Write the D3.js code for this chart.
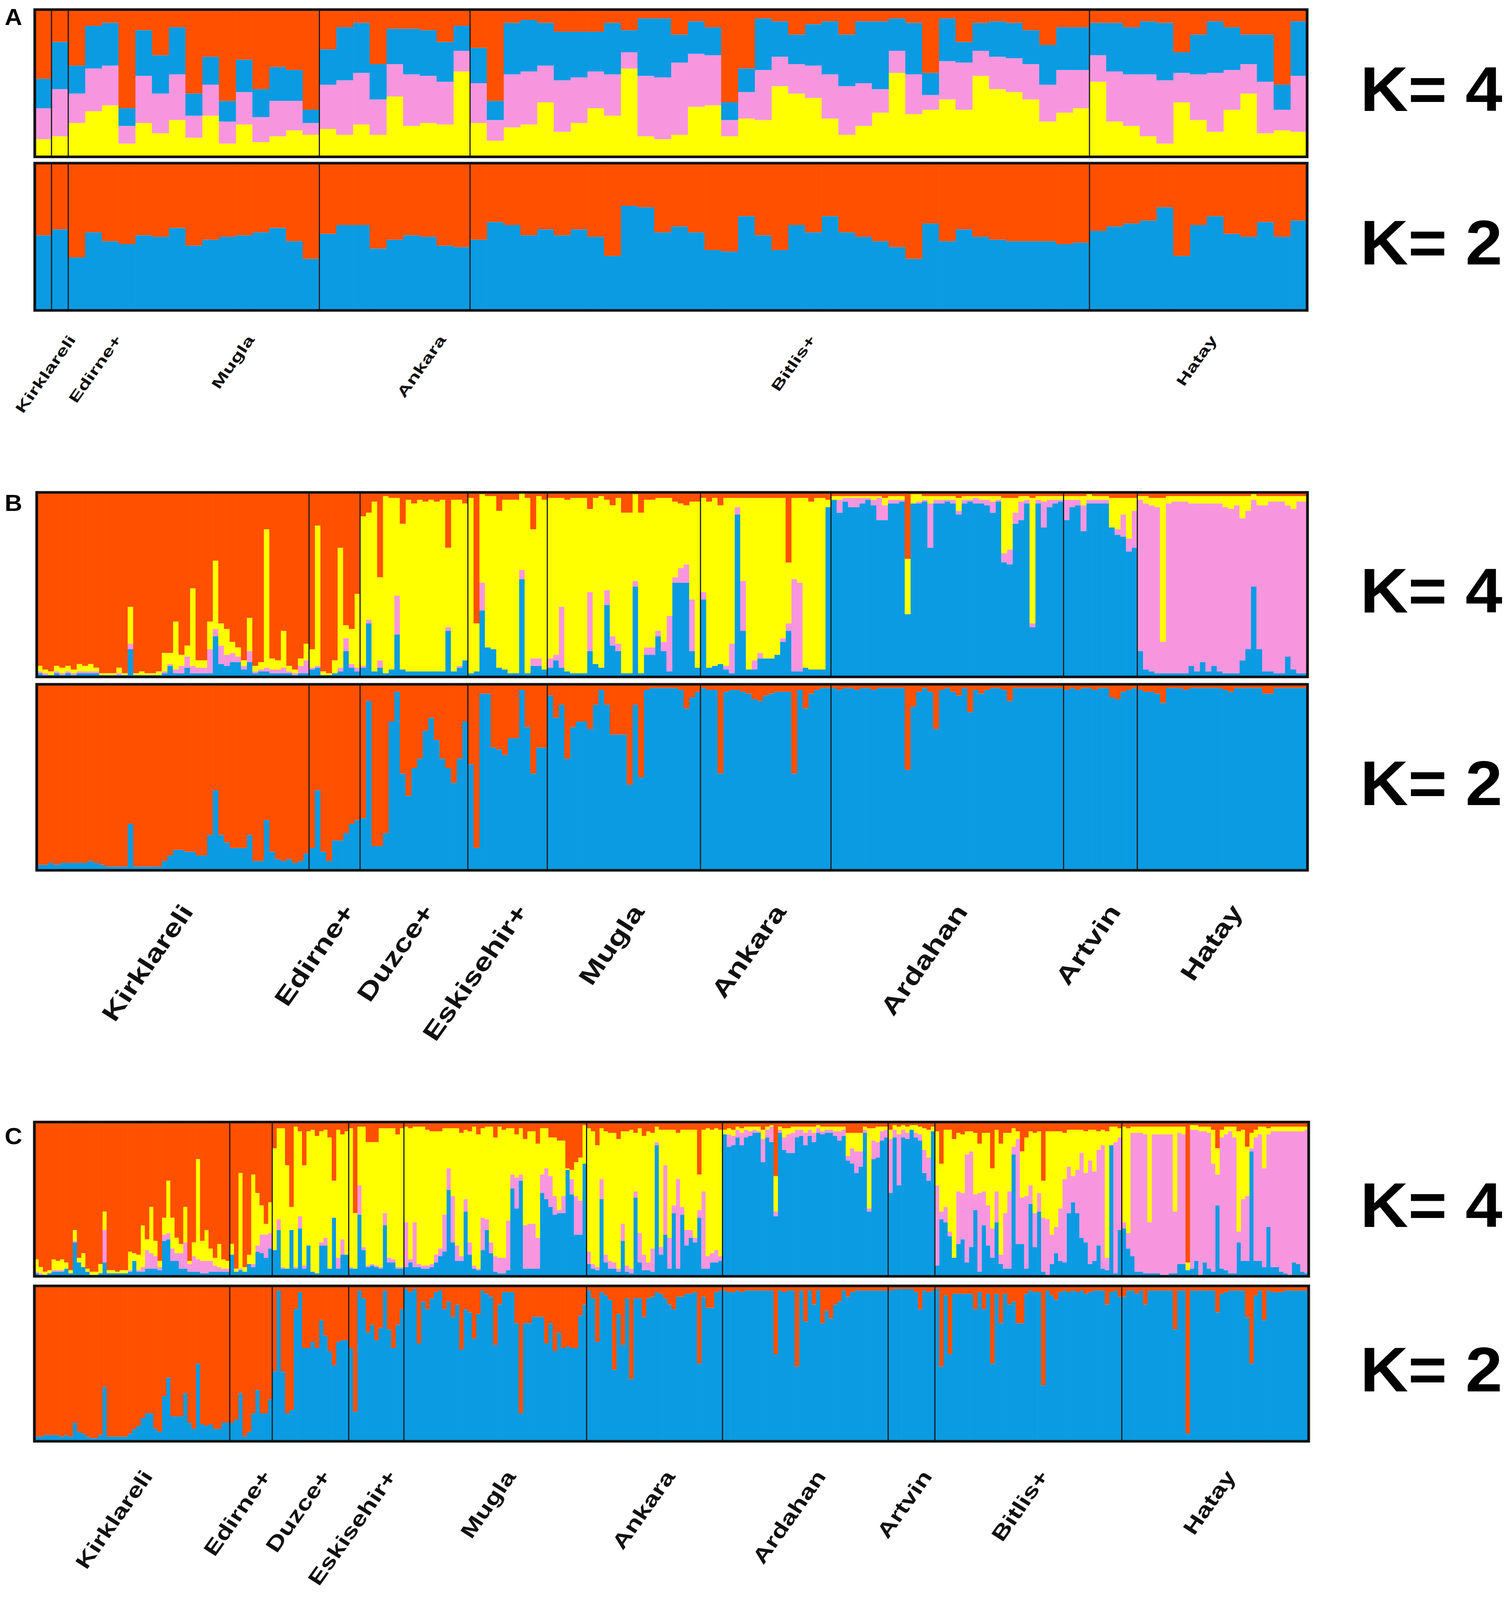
<!DOCTYPE html>
<html>
<head>
<meta charset="utf-8">
<script src="https://cdn.jsdelivr.net/npm/d3@7"></script>
<style>
  html, body { margin: 0; padding: 0; background: #fff; overflow: hidden; }
  svg { display: block; }
</style>
</head>
<body>
<svg id="chart"></svg>
<script>
// ---------------- data ----------------
// panel A : 76 individuals
const groupsA = ["Kirklareli", "Edirne+", "Mugla", "Ankara", "Bitlis+", "Hatay"];
const countsA = [1, 1, 15, 9, 37, 13];
// K=4 rows: [yellow, pink, blue], orange = remainder (stack bottom -> top)
const aK4 = [
  [.12,.21,.20],[.14,.32,.32],
  [.23,.20,.19],[.31,.29,.29],[.35,.27,.29],[.09,.12,.12],[.23,.32,.31],[.16,.27,.26],[.25,.31,.32],[.13,.15,.15],
  [.28,.21,.19],[.09,.15,.14],[.22,.22,.22],[.10,.17,.19],[.14,.24,.23],[.18,.20,.21],[.15,.08,.09],
  [.19,.30,.24],[.15,.37,.36],[.22,.35,.34],[.15,.24,.24],[.41,.22,.24],[.21,.35,.31],[.23,.32,.31],[.22,.29,.27],[.58,.14,.17],
  [.23,.27,.24],[.11,.14,.13],[.20,.36,.35],[.22,.36,.35],[.37,.25,.29],[.17,.35,.33],[.23,.31,.31],[.33,.25,.27],
  [.28,.28,.35],[.60,.11,.15],[.14,.41,.39],[.12,.42,.40],[.15,.49,.19],[.34,.36,.22],[.35,.34,.19],[.14,.11,.12],
  [.26,.18,.16],[.25,.34,.35],[.48,.20,.24],[.43,.20,.20],[.40,.22,.28],[.26,.30,.36],[.15,.33,.35],[.21,.29,.42],
  [.30,.16,.46],[.57,.15,.22],[.29,.27,.35],[.32,.10,.15],[.39,.26,.29],[.32,.32,.14],[.55,.17,.19],[.46,.22,.24],
  [.44,.23,.24],[.39,.24,.23],[.24,.25,.27],[.30,.29,.29],[.33,.26,.29],
  [.51,.18,.22],[.24,.34,.33],[.21,.35,.32],[.14,.42,.36],[.09,.43,.39],[.37,.20,.14],[.25,.31,.27],[.17,.40,.35],
  [.32,.27,.29],[.43,.20,.20],[.16,.35,.32],[.18,.14,.17],[.17,.38,.37]
];
// K=2: blue share, orange = remainder
const aK2 = [
  .51, .55,
  .36,.53,.47,.45,.51,.50,.56,.44,.48,.50,.51,.53,.56,.47,.35,
  .52,.58,.58,.42,.48,.51,.50,.44,.43,
  .48,.60,.58,.51,.55,.51,.55,.50,.37,.71,.70,.53,.57,.53,.41,.40,.64,.51,.41,.58,.53,.64,.53,.50,.47,.43,.35,
  .59,.47,.55,.50,.48,.47,.47,.47,.45,.46,
  .54,.57,.59,.61,.70,.37,.58,.64,.52,.50,.60,.50,.61
];

// panel B : 224 individuals
const groupsB = ["Kirklareli", "Edirne+", "Duzce+", "Eskisehir+", "Mugla", "Ankara", "Ardahan", "Artvin", "Hatay"];
const countsB = [48, 9, 19, 14, 27, 23, 41, 13, 30];
// K=4 rows: [blue, pink, yellow], orange = remainder
const bK4 = [
  // Kirklareli
  [.02,.01,.03],[.01,.01,.02],[.01,0,.02],[.02,.01,.03],[.01,.01,.03],[.02,.01,.03],[.01,.01,.02],[.02,.01,.04],
  [.02,.01,.03],[.02,.01,.04],[.02,.01,.02],[.01,0,.01],[.01,0,.01],[.01,0,.01],[.01,.01,.03],[.01,0,.01],
  [.15,.03,.20],[.01,0,.01],[.01,0,.02],[.01,0,.01],[.01,0,.01],[.01,0,.02],[.02,.01,.10],[.06,.01,.06],
  [.02,.02,.26],[.02,.04,.06],[.05,.06,.06],[.02,.04,.42],[.02,.03,.04],[.02,.03,.04],[.02,.13,.15],[.22,.04,.37],
  [.07,.10,.12],[.06,.06,.14],[.08,.05,.06],[.08,.03,.05],[.04,.02,.03],[.08,.06,.18],[.02,.01,.03],[.03,.01,.04],
  [.03,.02,.75],[.02,.02,.06],[.02,.02,.05],[.02,.03,.20],[.02,.01,.03],[.01,.01,.02],[.02,.04,.04],[.02,.07,.09],
  // Edirne+
  [.04,.01,.10],[.05,.01,.76],[.01,0,.02],[.01,0,.01],[.02,0,.07],[.03,.02,.65],[.14,.07,.07],[.05,.02,.19],[.03,.02,.40],
  // Duzce+
  [.05,.01,.81],[.29,.02,.58],[.03,0,.92],[.05,.04,.45],[.02,0,.96],[.04,0,.93],[.23,.21,.53],[.04,0,.79],
  [.03,0,.93],[.03,0,.91],[.03,0,.93],[.03,0,.92],[.03,0,.93],[.03,0,.92],[.03,0,.93],[.25,.02,.43],
  [.03,0,.93],[.05,.01,.90],[.09,0,.85],
  // Eskisehir+
  [.02,0,.95],[.03,0,.26],[.36,.15,.48],[.16,0,.82],[.15,0,.83],[.05,0,.85],[.04,0,.92],[.02,0,.94],
  [.02,0,.94],[.53,.05,.42],[.02,0,.95],[.06,.04,.70],[.06,.04,.88],[.04,0,.92],
  // Mugla
  [.05,.05,.87],[.09,.03,.85],[.05,.33,.59],[.03,0,.93],[.02,0,.95],[.02,0,.95],[.02,0,.95],[.14,.32,.45],
  [.07,0,.90],[.05,0,.93],[.39,.08,.49],[.17,.05,.71],[.14,.04,.79],[.02,0,.87],[.02,0,.87],[.49,.03,.47],
  [.02,0,.87],[.12,.04,.80],[.12,.04,.80],[.22,.03,.72],[.14,.05,.78],[.03,.30,.64],[.51,.03,.41],[.51,.08,.35],
  [.51,.10,.32],[.14,.28,.53],[.05,0,.90],
  // Ankara
  [.42,.04,.51],[.05,0,.90],[.06,0,.91],[.07,0,.86],[.04,.02,.91],[.02,.16,.79],[.88,.04,.05],[.25,.27,.45],
  [.04,0,.93],[.04,.05,.88],[.10,.03,.84],[.10,0,.87],[.10,0,.87],[.12,0,.85],[.19,.02,.76],[.25,.04,.33],
  [.03,.50,.44],[.03,.48,.46],[.05,0,.92],[.04,0,.91],[.04,0,.93],[.04,0,.93],[.92,0,.04],
  // Ardahan
  [.96,0,.02],[.89,.07,.02],[.95,.02,.01],[.92,.05,.01],[.92,.05,.01],[.94,.03,.01],[.96,.01,.01],[.93,.03,.02],
  [.85,.12,.01],[.85,.08,.04],[.94,.02,.02],[.94,.02,.02],[.95,.01,.02],[.34,0,.30],[.94,0,.05],[.94,.01,.04],
  [.95,.01,.02],[.70,.24,.04],[.94,.02,.02],[.94,.02,.02],[.95,.01,.02],[.94,.02,.02],[.88,.02,.07],[.94,.02,.02],
  [.95,.01,.02],[.94,.03,.01],[.94,.02,.02],[.93,.03,.02],[.89,.06,.03],[.95,.01,.02],[.62,.05,.30],[.61,.08,.28],
  [.83,.06,.08],[.85,.10,.03],[.94,.02,.02],[.27,.02,.68],[.94,.02,.02],[.81,.14,.03],[.92,.04,.02],[.94,.02,.02],
  [.95,.01,.02],
  // Artvin
  [.85,.11,.02],[.92,.04,.02],[.93,.03,.02],[.79,.14,.05],[.94,.02,.03],[.94,.02,.02],[.94,.02,.02],[.94,.02,.02],
  [.81,0,.16],[.77,.03,.17],[.76,.12,.09],[.68,.07,.22],[.70,.20,.07],
  // Hatay
  [.14,.82,.02],[.04,.90,.04],[.03,.90,.04],[.02,.90,.05],[.02,.17,.78],[.02,.92,.04],[.02,.93,.03],[.02,.93,.03],
  [.02,.93,.03],[.06,.88,.04],[.03,.91,.04],[.08,.86,.04],[.03,.91,.04],[.06,.88,.04],[.03,.91,.04],[.02,.90,.06],
  [.02,.89,.07],[.02,.91,.05],[.09,.77,.12],[.15,.75,.08],[.49,.47,.03],[.15,.78,.05],[.03,.90,.05],[.03,.92,.03],
  [.02,.93,.03],[.02,.93,.03],[.11,.82,.05],[.04,.87,.07],[.02,.93,.03],[.02,.93,.03]
];
const bK2 = [
  .03,.03,.04,.03,.04,.04,.04,.04,.04,.05,.04,.03,.02,.02,.02,.02,.25,.02,.02,.02,.02,.02,.05,.08,
  .11,.11,.10,.10,.08,.08,.19,.43,.19,.15,.12,.12,.12,.19,.05,.05,.27,.10,.06,.05,.06,.04,.05,.09,
  .12,.43,.10,.05,.16,.16,.20,.25,.27,
  .28,.91,.13,.13,.20,.80,.96,.52,.40,.55,.60,.75,.82,.70,.60,.55,.47,.60,.80,
  .57,.12,.95,.95,.66,.65,.62,.71,.71,.97,.77,.52,.66,.66,
  .94,.82,.89,.60,.77,.80,.80,.76,.89,.97,.89,.73,.73,.73,.46,.89,.50,.97,.98,.98,.98,.98,.98,.97,.87,.93,.96,
  .98,.97,.97,.52,.96,.97,.97,.96,.95,.92,.91,.94,.95,.96,.96,.96,.52,.97,.87,.95,.97,.98,.98,
  .98,.97,.98,.98,.97,.98,.98,.97,.98,
  .98,.98,.98,.98,.54,.88,.96,.98,.96,.76,.97,.98,.96,.94,.98,.85,.97,.95,.97,.98,.98,.97,.91,.98,.98,.98,.98,.98,.98,.98,.98,.98,
  .97,.98,.97,.98,.98,.97,.98,.98,.93,.92,.96,.97,.98,
  .97,.96,.96,.95,.90,.98,.98,.98,.97,.98,.98,.98,.98,.98,.98,.97,.96,.98,.98,.98,.98,.98,.95,.95,.98,.98,.98,.98,.98,.98
];

// panel C : 300 individuals
const groupsC = ["Kirklareli", "Edirne+", "Duzce+", "Eskisehir+", "Mugla", "Ankara", "Ardahan", "Artvin", "Bitlis+", "Hatay"];
const countsC = [46, 10, 18, 13, 43, 32, 39, 11, 44, 44];
// K=4 rows: [blue, pink, yellow], orange = remainder
const cK4 = [
  // Kirklareli
  [.02,.01,.08],[.01,.01,.04],[.01,0,.02],[.02,0,.02],[.03,.01,.07],[.03,.01,.06],[.03,.01,.07],[.05,0,.04],
  [.02,0,.02],[.22,.01,.07],[.09,0,.03],[.06,0,.09],[.03,0,.02],[.01,0,.02],[.01,0,.02],[.02,0,.06],
  [.09,.21,.12],[.02,0,.02],[.02,0,.02],[.02,0,.01],[.02,0,.02],[.02,0,.02],[.03,.01,.12],[.10,0,.05],
  [.03,.01,.10],[.03,.03,.27],[.05,.12,.07],[.05,.10,.30],[.05,.08,.10],[.04,.02,.04],[.23,.04,.11],[.24,.04,.34],
  [.10,.08,.20],[.10,.05,.10],[.05,.10,.06],[.05,.17,.23],[.03,.05,.02],[.03,.10,.09],[.03,.08,.65],[.02,.08,.13],
  [.02,.08,.20],[.03,.07,.08],[.03,.04,.05],[.03,.03,.15],[.03,.02,.06],[.03,.02,.05],
  // Edirne+
  [.14,0,.07],[.03,0,.02],[.04,.01,.62],[.03,0,.03],[.08,0,.06],[.06,.02,.58],[.16,.04,.34],[.15,.12,.19],
  [.12,.15,.07],[.18,.10,.20],
  // Duzce+
  [.17,0,.66],[.30,.07,.59],[.05,.01,.90],[.05,0,.67],[.30,0,.15],[.05,.01,.91],[.31,.08,.55],[.05,.02,.65],
  [.20,0,.74],[.03,0,.92],[.02,0,.89],[.20,.02,.72],[.20,.05,.70],[.05,0,.85],[.38,0,.24],[.05,.07,.83],
  [.14,.10,.68],[.14,0,.80],
  // Eskisehir+
  [.05,.01,.90],[.05,0,.36],[.40,.19,.38],[.17,.02,.78],[.06,.01,.80],[.07,.01,.79],[.06,.01,.80],[.05,.01,.90],
  [.33,.08,.55],[.09,.03,.84],[.09,.02,.85],[.05,.01,.86],[.05,.01,.90],
  // Mugla
  [.06,.29,.62],[.09,.02,.85],[.06,.29,.62],[.06,.02,.89],[.05,.02,.90],[.05,.02,.88],[.06,.02,.86],[.09,.05,.80],
  [.13,.05,.76],[.16,.24,.56],[.56,.14,.26],[.22,.30,.44],[.10,.10,.76],[.10,.03,.80],[.42,.08,.45],[.14,.08,.72],
  [.05,.02,.90],[.04,.01,.87],[.17,.21,.58],[.30,.07,.60],[.15,.07,.75],[.03,.10,.77],[.02,.10,.85],[.02,.10,.83],
  [.04,.32,.60],[.57,.09,.30],[.44,.20,.28],[.62,.04,.30],[.05,.28,.56],[.05,.29,.60],[.05,.29,.60],[.05,.20,.61],
  [.54,.12,.30],[.50,.20,.26],[.45,.20,.25],[.40,.12,.38],[.41,.02,.45],[.41,.11,.36],[.69,0,.01],[.53,.10,.06],
  [.27,.25,.22],[.27,.22,.28],[.73,0,.25],
  // Ankara
  [.08,.08,.80],[.05,.03,.86],[.04,.02,.79],[.50,.13,.33],[.09,.05,.80],[.05,.05,.83],[.05,.04,.84],[.03,.02,.84],
  [.23,.11,.60],[.03,.04,.87],[.02,.03,.90],[.51,.04,.38],[.09,.19,.68],[.04,.10,.77],[.04,.05,.85],[.03,.15,.75],
  [.85,.02,.10],[.14,.05,.76],[.27,.45,.23],[.05,.20,.70],[.41,.05,.49],[.05,.58,.30],[.40,.05,.50],[.20,.10,.65],
  [.25,.05,.65],[.22,.03,.70],[.38,.05,.23],[.05,.50,.40],[.05,.08,.83],[.09,.06,.80],[.09,.08,.79],[.10,.03,.82],
  // Ardahan
  [.92,0,.03],[.84,.08,.04],[.85,.06,.04],[.90,.05,.02],[.85,.08,.03],[.90,.05,.02],[.91,.03,.03],[.93,.02,.02],
  [.93,.01,.03],[.74,.15,.06],[.90,.05,.02],[.87,.10,.01],[.39,.03,.23],[.93,.02,.02],[.82,.08,.06],[.80,.12,.04],
  [.80,.13,.04],[.90,.05,.02],[.91,.04,.02],[.85,.08,.04],[.91,.04,.02],[.87,.06,.04],[.93,.03,.02],[.92,.02,.03],
  [.93,.02,.02],[.93,.02,.02],[.91,.03,.03],[.88,.06,.03],[.91,.04,.02],[.75,.03,.15],[.73,.10,.10],[.67,.14,.12],
  [.71,.10,.12],[.93,.02,.02],[.42,.02,.52],[.76,.12,.08],[.77,.10,.10],[.88,.06,.03],[.90,.05,.02],
  // Artvin
  [.54,.35,.06],[.90,.05,.03],[.59,.33,.05],[.90,.05,.03],[.89,.04,.04],[.95,0,.03],[.90,.03,.05],[.88,.04,.05],
  [.67,.15,.14],[.62,.15,.18],[.94,0,.03],
  // Bitlis+
  [.07,.52,.35],[.37,.05,.31],[.35,.10,.50],[.26,.03,.66],[.12,0,.77],[.21,.34,.38],[.24,.30,.38],[.09,.70,.15],
  [.19,.62,.13],[.43,.10,.40],[.03,.51,.32],[.33,.22,.38],[.20,.26,.47],[.12,.19,.39],[.35,.20,.40],[.08,.06,.72],
  [.05,.36,.52],[.05,.50,.38],[.79,.05,.12],[.21,.68,.05],[.21,.30,.30],[.05,.47,.38],[.47,.12,.35],[.19,.22,.52],
  [.42,.12,.40],[.03,.35,.24],[.01,.36,.57],[.08,.19,.67],[.15,.17,.62],[.10,.34,.50],[.09,.54,.30],[.41,.30,.24],
  [.48,.17,.30],[.41,.28,.26],[.25,.55,.15],[.22,.45,.27],[.08,.67,.20],[.10,.58,.27],[.20,.62,.12],[.05,.80,.10],
  [.04,.08,.82],[.85,0,.12],[.02,.85,.10],[.30,.60,.06],
  // Hatay
  [.31,.04,.62],[.18,.10,.68],[.13,.80,.04],[.03,.90,.04],[.03,.90,.04],[.02,.90,.05],[.02,.33,.62],[.02,.90,.05],
  [.02,.90,.05],[.01,.91,.05],[.01,.91,.05],[.02,.90,.05],[.02,.40,.55],[.08,.85,.04],[.08,.84,.05],[.04,0,.05],
  [.05,.90,.03],[.10,.85,.03],[.01,.93,.03],[.09,.85,.03],[.05,.88,.04],[.03,.70,.22],[.46,.20,.17],[.05,.85,.05],
  [.04,.88,.05],[.02,.92,.03],[.02,.88,.07],[.22,.07,.65],[.10,.40,.45],[.10,.42,.32],[.81,.02,.10],[.10,.80,.05],
  [.10,.82,.05],[.06,.64,.27],[.32,.60,.04],[.06,.88,.03],[.06,.88,.03],[.03,.91,.03],[.02,.92,.03],[.01,.93,.03],
  [.09,.85,.03],[.08,.86,.03],[.03,.91,.03],[.02,.93,.02]
];
const cK2 = [
  .03,.03,.04,.04,.04,.04,.03,.04,.03,.12,.06,.05,.03,.02,.02,.04,.35,.03,.03,.03,.03,.03,.05,.08,
  .10,.15,.18,.18,.08,.06,.29,.41,.16,.16,.16,.31,.12,.08,.50,.11,.10,.11,.08,.08,.12,.12,
  .12,.14,.31,.03,.06,.18,.33,.18,.18,.27,
  .45,.97,.45,.18,.20,.85,.96,.60,.60,.64,.60,.78,.68,.58,.49,.64,.65,.65,
  .60,.19,.97,.92,.70,.75,.65,.73,.97,.72,.60,.75,.85,
  .98,.96,.98,.63,.90,.85,.92,.96,.97,.85,.90,.80,.88,
  .59,.85,.83,.66,.82,.97,.95,.93,.62,.88,.96,.96,.96,.76,.18,.76,.76,.80,.80,.80,.63,.76,.58,.70,.60,.61,.60,.60,.81,.88,
  .97,.92,.64,.96,.94,.91,.46,.82,.62,.92,.40,.92,.92,.80,.92,.93,.96,.95,.92,.88,.85,.93,.93,.95,.95,.96,.50,.93,.86,.86,.96,.97,
  .97,.96,.96,.97,.96,.97,.97,.97,.97,.97,.97,.97,.56,.97,.96,.97,.97,.48,.97,.77,.97,.88,.97,.76,.84,.79,.88,.90,.97,.93,
  .96,.97,.97,.97,.97,.97,.97,.97,.97,
  .97,.98,.98,.98,.98,.98,.96,.85,.97,.96,.97,
  .98,.48,.94,.56,.95,.95,.95,.95,.95,.85,.96,.85,.95,.50,.95,.76,.95,.88,.90,.76,.76,.95,.97,.96,.96,.36,.97,.94,.91,.96,
  .97,.96,.97,.96,.97,.95,.96,.97,.97,.97,.88,.96,.97,.93,
  .93,.97,.97,.95,.97,.88,.97,.97,.97,.97,.97,.97,.72,.97,.97,.05,.97,.97,.97,.97,.97,.97,.83,.95,.96,.97,.97,.97,
  .97,.80,.50,.94,.97,.78,.97,.96,.96,.96,.97,.97,.97,.97,.97,.97
];

// ---------------- layout ----------------
// the drawing is laid out on a 3850 x 4335 canvas and stretched onto the viewport
const W = 3850, H = 4335;
const col = { orange: "#ff5000", blue: "#0a9be3", pink: "#f796df", yellow: "#ffff00" };
const font = "'Liberation Sans', Arial, Helvetica, sans-serif";

const panels = [
  { letter: "A", letterY: 68, groups: groupsA, counts: countsA, k4: aK4, k2: aK2,
    k4keys: ["yellow", "pink", "blue"], x0: 89, x1: 3346, y4: [26, 425], y2: [442, 841],
    labelY: 920, labelShift: [85, 160, 157, 133, 94, 50], labelSize: 38, labelStretch: 1.5 },
  { letter: "B", letterY: 1384, groups: groupsB, counts: countsB, k4: bK4, k2: bK2,
    k4keys: ["blue", "pink", "yellow"], x0: 94, x1: 3347, y4: [1334, 1834], y2: [1854, 2358],
    labelY: 2470, labelShift: 55, labelSize: 64, labelStretch: 1.33 },
  { letter: "C", letterY: 3100, groups: groupsC, counts: countsC, k4: cK4, k2: cK2,
    k4keys: ["blue", "pink", "yellow"], x0: 88, x1: 3350, y4: [3040, 3458], y2: [3484, 3905],
    labelY: 4000, labelShift: 55, labelSize: 54, labelStretch: 1.33 }
];

const vw = window.innerWidth || W, vh = window.innerHeight || H;
const svg = d3.select("#chart").attr("width", vw).attr("height", vh)
  .attr("viewBox", `0 0 ${W} ${H}`).attr("preserveAspectRatio", "none");
svg.append("rect").attr("width", W).attr("height", H).attr("fill", "#fff");

panels.forEach(drawPanel);

function drawPanel(p) {
  const n = d3.sum(p.counts);
  const x = d3.scaleBand().domain(d3.range(n)).range([p.x0, p.x1]).padding(0);
  const bw = x.bandwidth();
  const g = svg.append("g");

  // K=4 stacked bars
  const keys4 = p.k4keys.concat(["orange"]);
  const rows4 = p.k4.map((r, i) => {
    const o = { i };
    p.k4keys.forEach((k, j) => o[k] = r[j]);
    o.orange = Math.max(0, 1 - d3.sum(r));
    return o;
  });
  const y4 = d3.scaleLinear().domain([0, 1]).range([p.y4[1], p.y4[0]]);
  const stack4 = d3.stack().keys(keys4)(rows4);
  g.append("g").selectAll("g").data(stack4).join("g")
    .attr("fill", s => col[s.key])
    .selectAll("rect").data(s => s).join("rect")
    .attr("x", d => x(d.data.i))
    .attr("width", bw + 0.6)
    .attr("y", d => y4(Math.min(1, d[1])))
    .attr("height", d => Math.max(0, y4(d[0]) - y4(Math.min(1, d[1]))));

  // K=2 stacked bars
  const rows2 = p.k2.map((v, i) => ({ i, blue: v, orange: 1 - v }));
  const y2 = d3.scaleLinear().domain([0, 1]).range([p.y2[1], p.y2[0]]);
  const stack2 = d3.stack().keys(["blue", "orange"])(rows2);
  g.append("g").selectAll("g").data(stack2).join("g")
    .attr("fill", s => col[s.key])
    .selectAll("rect").data(s => s).join("rect")
    .attr("x", d => x(d.data.i))
    .attr("width", bw + 0.6)
    .attr("y", d => y2(d[1]))
    .attr("height", d => y2(d[0]) - y2(d[1]));

  // group boundaries + frames
  const starts = d3.cumsum([0].concat(p.counts)).slice(0, p.counts.length);
  const cuts = starts.slice(1);
  [p.y4, p.y2].forEach(yy => {
    g.append("g").selectAll("line").data(cuts).join("line")
      .attr("x1", c => x(c)).attr("x2", c => x(c))
      .attr("y1", yy[0]).attr("y2", yy[1])
      .attr("stroke", "#1b1b1b").attr("stroke-width", 3);
    g.append("rect")
      .attr("x", p.x0).attr("y", yy[0])
      .attr("width", p.x1 - p.x0).attr("height", yy[1] - yy[0])
      .attr("fill", "none").attr("stroke", "#111").attr("stroke-width", 7);
  });

  // population labels
  g.append("g").selectAll("text").data(p.groups).join("text")
    .attr("transform", (name, k) => {
      const cx = x(starts[k]) + p.counts[k] * bw / 2;
      const sh = Array.isArray(p.labelShift) ? p.labelShift[k] : p.labelShift;
      return `translate(${cx + sh},${p.labelY}) rotate(-56) scale(${p.labelStretch},1)`;
    })
    .attr("text-anchor", "end")
    .attr("font-family", font)
    .attr("font-weight", "bold")
    .attr("font-size", p.labelSize)
    .attr("fill", "#111")
    .text(d => d);

  // K labels
  [["K= 4", p.y4], ["K= 2", p.y2]].forEach(([t, yy]) => {
    g.append("text")
      .attr("x", 3482).attr("y", (yy[0] + yy[1]) / 2 + 75)
      .attr("font-family", font).attr("font-weight", "bold")
      .attr("font-size", 170).attr("fill", "#000")
      .text(t);
  });

  // panel letter
  g.append("text")
    .attr("x", 12).attr("y", p.letterY)
    .attr("font-family", font).attr("font-weight", "bold")
    .attr("font-size", 62).attr("fill", "#000")
    .text(p.letter);
}
</script>
</body>
</html>
